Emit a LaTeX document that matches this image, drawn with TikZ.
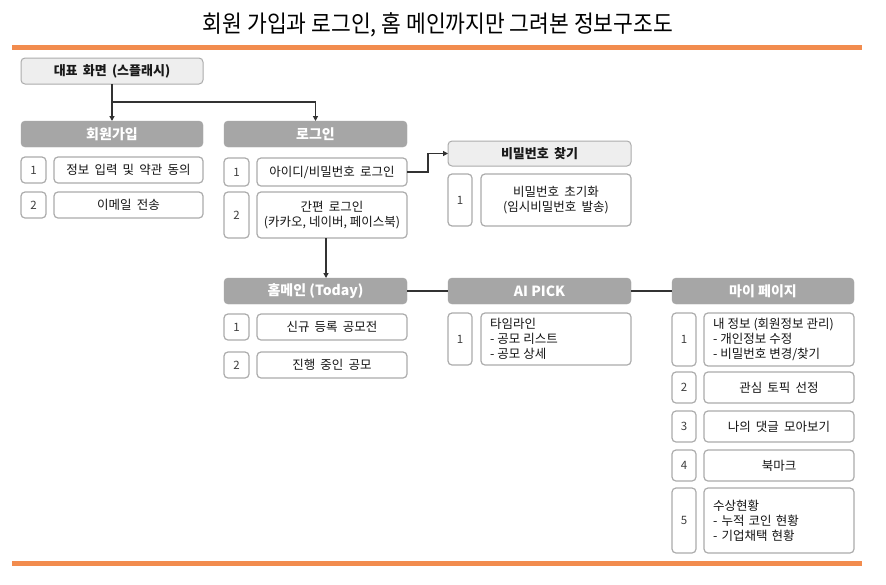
\documentclass[tikz,border=0pt]{standalone}
\usepackage{fontspec}
\newfontfamily\kr{Noto Sans CJK KR}
\usetikzlibrary{arrows.meta}
\definecolor{orangebar}{RGB}{242,140,78}
\definecolor{hdrgray}{RGB}{166,166,166}
\definecolor{boxline}{RGB}{172,172,172}
\definecolor{lightfill}{RGB}{238,238,238}
\definecolor{connc}{RGB}{50,50,50}
\newcommand{\widesp}{\spaceskip=5.2pt plus 1pt minus 1pt\relax}
\newcommand{\narrowsp}{\spaceskip=3pt plus 1pt minus 1pt\relax}
\begin{document}
\begin{tikzpicture}[x=1pt,y=-1pt,
  base/.style={rounded corners=4pt, inner sep=0pt, outer sep=0pt},
  hdr/.style={base, fill=hdrgray, draw=hdrgray, text=white, font=\kr\bfseries\fontsize{14}{16}\selectfont},
  subhdr/.style={base, fill=lightfill, draw=boxline, line width=1pt, text=black!90, font=\kr\bfseries\fontsize{13}{15}\selectfont\widesp},
  numbox/.style={base, draw=boxline, line width=1.2pt, fill=white, text=black!75, font=\kr\fontsize{11.5}{13}\selectfont},
  itembox/.style={base, draw=boxline, line width=1.2pt, fill=white, text=black!92, align=center, font=\kr\fontsize{12.5}{15}\selectfont\widesp},
  leftbox/.style={itembox, align=left, inner xsep=9pt, text width=132pt},
  conn/.style={draw=connc, line width=1.5pt},
  arr/.style={conn, -{Triangle[length=5pt,width=5pt]}},
]
\useasboundingbox[fill=white] (0,0) rectangle (886,584);

% title and bars
\node[font=\kr\fontsize{21.5}{24}\selectfont, yscale=1.1] (title) at (438,25) {회원 가입과 로그인, 홈 메인까지만 그려본 정보구조도};
\fill[orangebar] (12,45) rectangle (862,50);
\fill[orangebar] (12,561) rectangle (862,566);

% splash
\node[subhdr, minimum width=182pt, minimum height=26pt] (splash) at (112,71) {대표 화면 (스플래시)};

% headers
\node[hdr, minimum width=182pt, minimum height=26pt] (signup) at (112,134) {회원가입};
\node[hdr, minimum width=183pt, minimum height=26pt] (login) at (315.5,134) {로그인};
\node[subhdr, minimum width=183pt, minimum height=25pt] (pwhdr) at (539.5,153.5) {비밀번호 찾기};
\node[hdr, minimum width=183pt, minimum height=26pt] (home) at (315.5,291) {홈메인 (Today)};
\node[hdr, minimum width=183pt, minimum height=26pt] (ai) at (539.5,291) {AI PICK};
\node[hdr, minimum width=182pt, minimum height=26pt] (my) at (763,291) {마이 페이지};

% signup items
\node[numbox, minimum width=25pt, minimum height=26pt] (a1n) at (33.5,170) {1};
\node[itembox, minimum width=149pt, minimum height=26pt] (a1t) at (128.5,170) {정보 입력 및 약관 동의};
\node[numbox, minimum width=25pt, minimum height=26pt] (a2n) at (33.5,205) {2};
\node[itembox, minimum width=149pt, minimum height=26pt] (a2t) at (128.5,205) {이메일 전송};

% login items
\node[numbox, minimum width=25pt, minimum height=28pt] (b1n) at (236.5,172) {1};
\node[itembox, minimum width=150pt, minimum height=28pt] (b1t) at (332,172) {아이디/비밀번호 로그인};
\node[numbox, minimum width=25pt, minimum height=46pt] (b2n) at (236.5,215) {2};
\node[itembox, minimum width=150pt, minimum height=46pt] (b2t) at (332,215) {간편 로그인\\{\narrowsp(카카오, 네이버, 페이스북)}};

% password items
\node[numbox, minimum width=24pt, minimum height=52pt] (c1n) at (460,200) {1};
\node[itembox, minimum width=150pt, minimum height=52pt] (c1t) at (556,200) {비밀번호 초기화\\(임시비밀번호 발송)};

% home items
\node[numbox, minimum width=25pt, minimum height=26pt] (h1n) at (236.5,327) {1};
\node[itembox, minimum width=150pt, minimum height=26pt] (h1t) at (332,327) {신규 등록 공모전};
\node[numbox, minimum width=25pt, minimum height=26pt] (h2n) at (236.5,365) {2};
\node[itembox, minimum width=150pt, minimum height=26pt] (h2t) at (332,365) {진행 중인 공모};

% AI items
\node[numbox, minimum width=24pt, minimum height=52pt] (i1n) at (460,339) {1};
\node[leftbox, minimum width=150pt, minimum height=52pt] (i1t) at (556,339) {타임라인\\{\narrowsp- 공모 리스트}\\{\narrowsp- 공모 상세}};

% my page items
\node[numbox, minimum width=24pt, minimum height=53pt] (m1n) at (684,339.5) {1};
\node[leftbox, minimum width=150pt, minimum height=53pt] (m1t) at (779,339.5) {{\narrowsp 내 정보 (회원정보 관리)}\\{\narrowsp- 개인정보 수정}\\{\narrowsp- 비밀번호 변경/찾기}};
\node[numbox, minimum width=24pt, minimum height=31pt] (m2n) at (684,387.5) {2};
\node[itembox, minimum width=150pt, minimum height=31pt] (m2t) at (779,387.5) {관심 토픽 선정};
\node[numbox, minimum width=24pt, minimum height=31pt] (m3n) at (684,426.5) {3};
\node[itembox, minimum width=150pt, minimum height=31pt] (m3t) at (779,426.5) {나의 댓글 모아보기};
\node[numbox, minimum width=24pt, minimum height=31pt] (m4n) at (684,465.5) {4};
\node[itembox, minimum width=150pt, minimum height=31pt] (m4t) at (779,465.5) {북마크};
\node[numbox, minimum width=24pt, minimum height=65pt] (m5n) at (684,520.5) {5};
\node[leftbox, minimum width=150pt, minimum height=65pt] (m5t) at (779,520.5) {수상현황\\-\ 누적 코인 현황\\-\ 기업채택 현황};

% connectors
\coordinate (split) at (112,102);
\coordinate (ax) at (326,0);
\draw[arr] (splash.south) -- (signup.north);
\draw[arr] (split) -| (login.north);
\draw[arr] (b1t.east) -- ([xshift=21pt]b1t.east) |- (pwhdr.west);
\draw[arr] (b2t.south -| ax) -- (home.north -| ax);
\draw[conn] (home.east) -- (ai.west);
\draw[conn] (ai.east) -- (my.west);
\end{tikzpicture}
\end{document}
